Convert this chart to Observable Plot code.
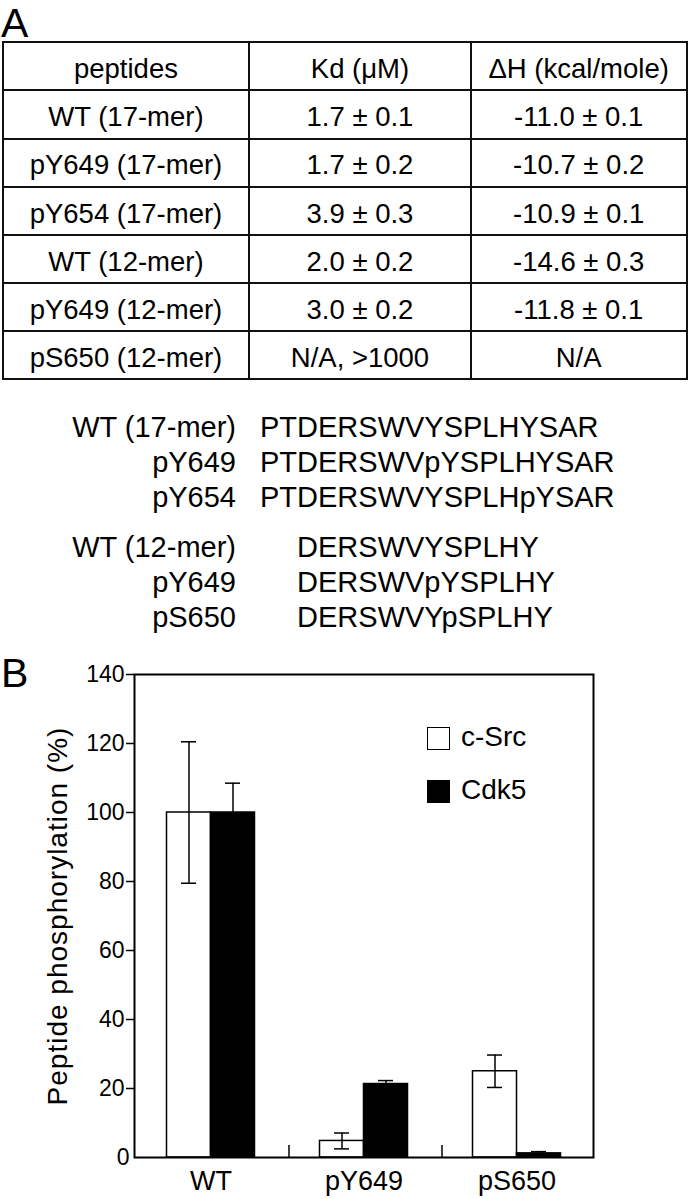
<!DOCTYPE html>
<html>
<head>
<meta charset="utf-8">
<script src="https://cdn.jsdelivr.net/npm/d3@7"></script>
<script src="https://cdn.jsdelivr.net/npm/@observablehq/plot@0.6"></script>
<style>
  html, body { margin: 0; padding: 0; background: #fff; }
  body { font-family: "Liberation Sans", Arial, Helvetica, sans-serif; color: #000; }
  #page { position: relative; width: 689px; height: 1199px; overflow: hidden; }
  .panel { position: absolute; font-size: 41px; line-height: 47px; left: 1px; }
  #tbl { position: absolute; left: 1.7px; top: 41.3px; border-collapse: collapse; table-layout: fixed;
         width: 686px; height: 339px; font-size: 27.5px; }
  #tbl td { border: 2.2px solid #111; text-align: center; vertical-align: middle; padding: 5px 0 0 0;
            white-space: nowrap; line-height: 1; }
  #seq { position: absolute; left: 0; top: 0; font-size: 29px; }
  .sline { position: absolute; left: 0; height: 35px; line-height: 35px; width: 689px; }
  .slab { position: absolute; right: calc(689px - 236px); white-space: nowrap; }
  .sseq { position: absolute; left: 260px; white-space: nowrap; }
  #chart { position: absolute; left: 0; top: 640px; }
  #legend { position: absolute; left: 0; top: 0; font-size: 28px; }
  .lrow { position: absolute; left: 427px; height: 24px; }
  .lbox { position: absolute; left: 0; top: 0; width: 21px; height: 21px; border: 1.5px solid #000; }
  .ltxt { position: absolute; left: 34px; top: -4px; line-height: 28px; white-space: nowrap; }
</style>
</head>
<body>
<div id="page">
  <div class="panel" id="labelA" style="top:0px">A</div>
  <table id="tbl"><colgroup><col style="width:246.6px"><col style="width:221.4px"><col style="width:216px"></colgroup><tbody></tbody></table>
  <div id="seq"></div>
  <div class="panel" id="labelB" style="top:649.5px">B</div>
  <div id="chart"></div>
  <div id="legend"></div>
</div>
<script>
// ---------- Panel A: table data ----------
const tableHeader = ["peptides", "Kd (\u03BCM)", "\u0394H (kcal/mole)"];
const peptideNames = ["WT (17-mer)", "pY649 (17-mer)", "pY654 (17-mer)", "WT (12-mer)", "pY649 (12-mer)", "pS650 (12-mer)"];
const kdValues = ["1.7 \u00B1 0.1", "1.7 \u00B1 0.2", "3.9 \u00B1 0.3", "2.0 \u00B1 0.2", "3.0 \u00B1 0.2", "N/A, >1000"];
const dHValues = ["-11.0 \u00B1 0.1", "-10.7 \u00B1 0.2", "-10.9 \u00B1 0.1", "-14.6 \u00B1 0.3", "-11.8 \u00B1 0.1", "N/A"];

// ---------- Panel A: sequences ----------
const seqLabels17 = ["WT (17-mer)", "pY649", "pY654"];
const sequences17 = ["PTDERSWVYSPLHYSAR", "PTDERSWVpYSPLHYSAR", "PTDERSWVYSPLHpYSAR"];
const seqLabels12 = ["WT (12-mer)", "pY649", "pS650"];
const sequences12 = ["DERSWVYSPLHY", "DERSWVpYSPLHY", "DERSWVYpSPLHY"];

// ---------- Panel B: bar chart data ----------
const categories = ["WT", "pY649", "pS650"];
const seriesNames = ["c-Src", "Cdk5"];
const cSrcValues = [100, 4.8, 25.0];
const cSrcErrors = [20.5, 2.3, 4.7];
const cdk5Values = [100, 21.3, 1.2];
const cdk5Errors = [8.5, 1.0, 0.5];
const yTicks = [0, 20, 40, 60, 80, 100, 120, 140];
const yTitle = "Peptide phosphorylation (%)";

// ----- build table -----
const tbody = document.querySelector("#tbl tbody");
const rows = [tableHeader].concat(peptideNames.map((p, i) => [p, kdValues[i], dHValues[i]]));
rows.forEach(r => {
  const tr = document.createElement("tr");
  r.forEach(c => { const td = document.createElement("td"); td.textContent = c; tr.appendChild(td); });
  tbody.appendChild(tr);
});

// ----- build sequence block -----
const seqDiv = document.getElementById("seq");
function addLine(label, seq, top, prefix) {
  const line = document.createElement("div");
  line.className = "sline"; line.style.top = top + "px";
  const l = document.createElement("span"); l.className = "slab"; l.textContent = label;
  const s = document.createElement("span"); s.className = "sseq";
  if (prefix) { const h = document.createElement("span"); h.style.visibility = "hidden"; h.textContent = prefix; s.appendChild(h); }
  s.appendChild(document.createTextNode(seq));
  line.appendChild(l); line.appendChild(s); seqDiv.appendChild(line);
}
const lineH = 35;
seqLabels17.forEach((lab, i) => addLine(lab, sequences17[i], 409.5 + i * lineH, ""));
const prefix12 = sequences17[0].slice(0, sequences17[0].indexOf(sequences12[0]));
seqLabels12.forEach((lab, i) => addLine(lab, sequences12[i], 529.5 + i * lineH, prefix12));

// ----- chart -----
const cSrc = categories.map((c, i) => ({category: c, series: seriesNames[0], value: cSrcValues[i], err: cSrcErrors[i]}));
const cdk5 = categories.map((c, i) => ({category: c, series: seriesNames[1], value: cdk5Values[i], err: cdk5Errors[i]}));

const W = 689, H = 559, mL = 134, mR = 96, mT = 34, mB = 42;
const half = (W - mL - mR) / categories.length / 2; // half band
const barW = 44, capHalf = 7.5;
const barCenter = barW / 2;

const chart = Plot.plot({
  width: W, height: H,
  marginTop: mT, marginBottom: mB, marginLeft: mL, marginRight: mR,
  style: {fontFamily: "'Liberation Sans', Arial, sans-serif", color: "#000", background: "transparent", overflow: "visible"},
  x: {domain: categories, padding: 0, axis: null},
  y: {domain: [0, 140], axis: null},
  marks: [
    Plot.barY(cSrc, {x: "category", y: "value", fill: "white", stroke: "black", strokeWidth: 1.5,
      insetLeft: half - barW, insetRight: half}),
    Plot.barY(cdk5, {x: "category", y: "value", fill: "black", stroke: "black", strokeWidth: 1.5,
      insetLeft: half, insetRight: half - barW}),
    // error bars c-Src
    Plot.ruleX(cSrc, {x: "category", y1: d => d.value - d.err, y2: d => d.value + d.err, dx: -barCenter, stroke: "black", strokeWidth: 1.5}),
    Plot.tickY(cSrc, {x: "category", y: d => d.value + d.err, insetLeft: half - barCenter - capHalf, insetRight: half + barCenter - capHalf, stroke: "black", strokeWidth: 1.5}),
    Plot.tickY(cSrc, {x: "category", y: d => d.value - d.err, insetLeft: half - barCenter - capHalf, insetRight: half + barCenter - capHalf, stroke: "black", strokeWidth: 1.5}),
    // error bars Cdk5
    Plot.ruleX(cdk5, {x: "category", y1: d => d.value - d.err, y2: d => d.value + d.err, dx: barCenter, stroke: "black", strokeWidth: 1.5}),
    Plot.tickY(cdk5, {x: "category", y: d => d.value + d.err, insetLeft: half + barCenter - capHalf, insetRight: half - barCenter - capHalf, stroke: "black", strokeWidth: 1.5}),
    // category separators
    Plot.ruleX(categories.slice(1), {x: d => d, y1: 0, y2: 3.5, dx: -half + 1.5, stroke: "black", strokeWidth: 1.5}),
    Plot.frame({stroke: "black", strokeWidth: 2}),
    Plot.axisY({ticks: yTicks.filter(t => t > 0), tickSize: 8, tickPadding: 2, fontSize: 23, label: null, tickFormat: d => d, strokeWidth: 1.5}),
    Plot.axisY({ticks: [0], tickSize: 0, tickPadding: 5, fontSize: 23, label: null, tickFormat: d => d}),
    Plot.axisX({tickSize: 0, tickPadding: 13, fontSize: 27, label: null}),
    Plot.text([yTitle], {text: d => d, frameAnchor: "left", textAnchor: "middle", lineAnchor: "middle",
      rotate: -90, dx: -76, fontSize: 28})
  ]
});
chart.querySelectorAll("text").forEach(t => { if (t.textContent === yTitle) t.setAttribute("letter-spacing", "1"); });
document.getElementById("chart").appendChild(chart);

// ----- legend (inside plot area) -----
const legend = document.getElementById("legend");
const legendTops = [726.5, 780];
const legendFills = ["white", "black"];
seriesNames.forEach((s, i) => {
  const row = document.createElement("div"); row.className = "lrow"; row.style.top = legendTops[i] + "px";
  const box = document.createElement("div"); box.className = "lbox"; box.style.background = legendFills[i];
  const t = document.createElement("div"); t.className = "ltxt"; t.textContent = s;
  row.appendChild(box); row.appendChild(t); legend.appendChild(row);
});
</script>
</body>
</html>
